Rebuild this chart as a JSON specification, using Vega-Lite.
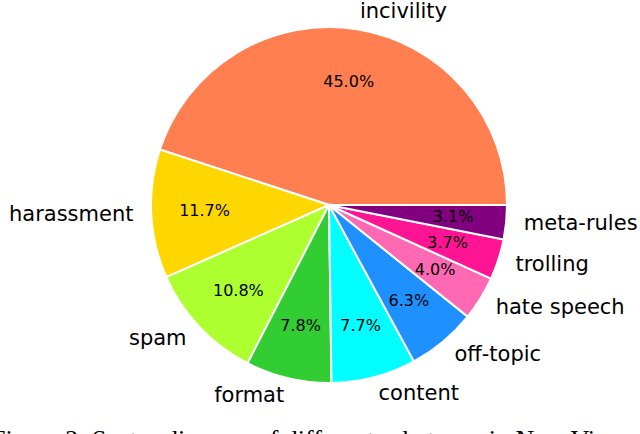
{
  "$schema": "https://vega.github.io/schema/vega-lite/v6.json",
  "width": 622,
  "height": 410,
  "autosize": "none",
  "padding": {"left": 18, "top": 0, "right": 0, "bottom": 24},
  "background": "white",
  "title": {
    "text": "Figure 2: Sector diagram of different rule types in New Vi",
    "orient": "bottom",
    "anchor": "start",
    "dx": -18,
    "offset": 17,
    "font": "Liberation Serif",
    "fontSize": 26,
    "fontWeight": "normal",
    "color": "black"
  },
  "data": {
    "values": [
      {"label": "incivility", "share": 0.450},
      {"label": "harassment", "share": 0.117},
      {"label": "spam", "share": 0.108},
      {"label": "format", "share": 0.078},
      {"label": "content", "share": 0.077},
      {"label": "off-topic", "share": 0.063},
      {"label": "hate speech", "share": 0.040},
      {"label": "trolling", "share": 0.037},
      {"label": "meta-rules", "share": 0.031}
    ]
  },
  "encoding": {
    "theta": {"field": "share", "type": "quantitative", "stack": true, "scale": {"range": [1.5707963, -4.712389]}},
    "order": {"field": "share", "type": "quantitative", "sort": "descending"},
    "detail": {"field": "label", "type": "nominal"}
  },
  "layer": [
    {
      "mark": {"type": "arc", "outerRadius": 178, "stroke": "white", "strokeWidth": 2},
      "encoding": {
        "color": {
          "field": "label",
          "type": "nominal",
          "scale": {
            "domain": ["incivility", "harassment", "spam", "format", "content", "off-topic", "hate speech", "trolling", "meta-rules"],
            "range": ["#FF7F50", "#FFD700", "#ADFF2F", "#32CD32", "#00FFFF", "#1E90FF", "#FF69B4", "#FF1493", "#800080"]
          },
          "legend": null
        }
      }
    },
    {
      "mark": {"type": "text", "radius": 124.6, "font": "DejaVu Sans", "fontSize": 16, "fill": "black", "align": "center", "baseline": "middle"},
      "encoding": {"text": {"field": "share", "type": "quantitative", "format": ".1%"}}
    },
    {
      "mark": {
        "type": "text",
        "radius": 195.8,
        "font": "DejaVu Sans",
        "fontSize": 21,
        "fill": "black",
        "baseline": "middle",
        "align": {"expr": "indexof(['harassment','spam','format'], datum.label) >= 0 ? 'right' : 'left'"}
      },
      "encoding": {"text": {"field": "label", "type": "nominal"}}
    }
  ],
  "config": {"view": {"stroke": null}}
}
